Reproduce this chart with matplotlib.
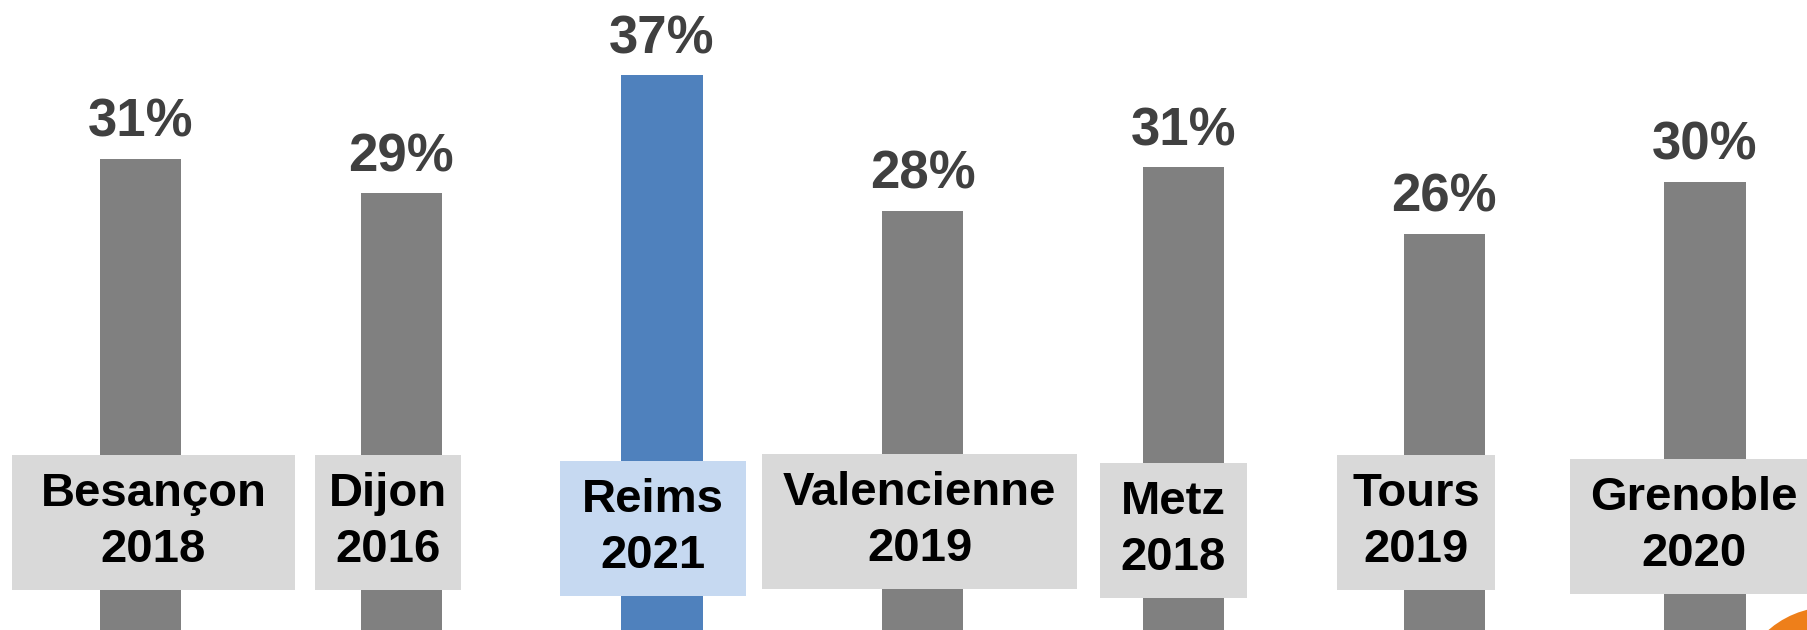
import matplotlib
matplotlib.use("Agg")
import matplotlib.pyplot as plt
from matplotlib.patches import Ellipse, Rectangle

# Donnees
villes = ["Besançon", "Dijon", "Reims", "Valencienne", "Metz", "Tours", "Grenoble"]
annees = ["2018", "2016", "2021", "2019", "2018", "2019", "2020"]
taux = [31.2, 28.8, 37.0, 27.6, 30.6, 26.0, 29.6]
ville_mise_en_avant = "Reims"

# Mise en page (pixels)
decal_x = [13, -13, -9, -3, -10, -28, -11]
centre_y = [522, 522, 528, 521, 530, 522, 526]
marge_x = [29, 14, 22, 21, 21, 15, 20]
hauteur_cadre = 135

plt.rcParams['font.family'] = ['Liberation Sans', 'DejaVu Sans']

fig = plt.figure(figsize=(18.08, 6.3), dpi=100)
ax = fig.add_axes([0, 0, 1, 1])

couleurs = ["#4f81bd" if v == ville_mise_en_avant else "#808080" for v in villes]
fonds = ["#c6d9f1" if v == ville_mise_en_avant else "#d9d9d9" for v in villes]

plancher = -5
x = list(range(len(villes)))
ax.bar(x, [t - plancher for t in taux], bottom=plancher, width=0.311, color=couleurs, zorder=1)

for i, t in enumerate(taux):
    ax.annotate(f"{t:.0f}%", xy=(i, t), xytext=(0, 15.8), textcoords="offset points",
                ha="center", va="baseline", fontsize=38, fontweight="bold", color="#404040")

ax.set_xlim(-0.539, 6.395)
ax.set_ylim(-1.41, 42.19)
ax.set_axis_off()

etiquettes = []
for i, (v, a) in enumerate(zip(villes, annees)):
    t = ax.annotate(f"{v}\n{a}", xy=(i, 1 - centre_y[i] / 630), xycoords=("data", "axes fraction"),
                    xytext=(decal_x[i] * 0.72, 0), textcoords="offset points",
                    ha="center", va="center", multialignment="center",
                    fontsize=34, fontweight="bold", color="black", linespacing=1.38, zorder=4)
    etiquettes.append(t)

# cadres derriere les etiquettes
fig.canvas.draw()
for i, t in enumerate(etiquettes):
    bb = t.get_window_extent()
    cy = (bb.y0 + bb.y1) / 2
    ax.add_patch(Rectangle((bb.x0 - marge_x[i], cy - hauteur_cadre / 2),
                           bb.width + 2 * marge_x[i], hauteur_cadre,
                           transform=None, facecolor=fonds[i], edgecolor="none", zorder=3))

# morceau de fleche orange en bas a droite
fig.patches.append(Ellipse((1.012, -0.111), 0.1029, 0.295, transform=fig.transFigure,
                           facecolor="#ee7f1a", edgecolor="none"))

plt.savefig("out.png", dpi=100)
